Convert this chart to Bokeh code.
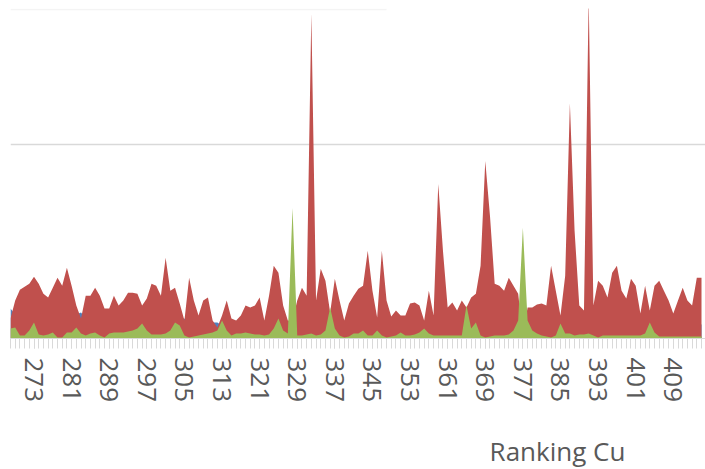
from bokeh.plotting import figure
from bokeh.layouts import column
from bokeh.models import Range1d, FixedTicker, BoxAnnotation, ColumnDataSource
from bokeh.core.properties import value
from bokeh.embed import file_html
from bokeh.resources import INLINE

# categories (Ranking Cu)
categories = [268, 269, 270, 271, 272, 273, 274, 275, 276, 277,
              278, 279, 280, 281, 282, 283, 284, 285, 286, 287,
              288, 289, 290, 291, 292, 293, 294, 295, 296, 297,
              298, 299, 300, 301, 302, 303, 304, 305, 306, 307,
              308, 309, 310, 311, 312, 313, 314, 315, 316, 317,
              318, 319, 320, 321, 322, 323, 324, 325, 326, 327,
              328, 329, 330, 331, 332, 333, 334, 335, 336, 337,
              338, 339, 340, 341, 342, 343, 344, 345, 346, 347,
              348, 349, 350, 351, 352, 353, 354, 355, 356, 357,
              358, 359, 360, 361, 362, 363, 364, 365, 366, 367,
              368, 369, 370, 371, 372, 373, 374, 375, 376, 377,
              378, 379, 380, 381, 382, 383, 384, 385, 386, 387,
              388, 389, 390, 391, 392, 393, 394, 395, 396, 397,
              398, 399, 400, 401, 402, 403, 404, 405, 406, 407,
              408, 409, 410, 411, 412, 413, 414, 415]

series_blue = [30, 24, 14, 13, 15, 14, 12, 14, 15, 13,
               14, 12, 15, 14, 24, 26, 20, 14, 13, 15,
               14, 12, 14, 15, 13, 14, 12, 15, 14, 13,
               14, 12, 15, 14, 13, 15, 20, 20, 14, 13,
               12, 14, 15, 16, 16, 13, 14, 12, 13, 15,
               14, 13, 15, 14, 12, 14, 15, 13, 14, 12,
               13, 14, 15, 13, 14, 12, 15, 14, 13, 12,
               14, 13, 15, 14, 12, 14, 15, 13, 14, 12,
               13, 14, 15, 13, 14, 12, 15, 14, 13, 15,
               14, 13, 15, 14, 12, 14, 15, 13, 14, 12,
               13, 14, 15, 13, 14, 12, 15, 14, 13, 12,
               14, 13, 15, 14, 12, 14, 15, 13, 14, 12,
               13, 14, 15, 13, 14, 12, 15, 14, 13, 15,
               14, 13, 15, 14, 12, 14, 15, 13, 14, 12,
               13, 14, 15, 13, 14, 12, 15, 14]

series_red = [20, 38, 49, 52, 55, 62, 55, 45, 41, 51,
              61, 53, 71, 53, 33, 20, 43, 43, 51, 43,
              30, 30, 43, 33, 38, 46, 46, 45, 33, 40,
              55, 53, 43, 81, 48, 51, 35, 18, 61, 38,
              23, 38, 41, 18, 11, 23, 38, 20, 18, 23,
              33, 31, 33, 41, 18, 43, 73, 66, 33, 18,
              18, 38, 51, 43, 326, 38, 70, 58, 26, 60,
              38, 18, 35, 43, 50, 53, 88, 48, 21, 88,
              38, 22, 28, 23, 23, 35, 36, 33, 18, 48,
              23, 155, 88, 31, 36, 28, 38, 31, 41, 45,
              73, 178, 123, 55, 53, 48, 61, 53, 45, 3,
              31, 31, 34, 35, 33, 73, 48, 23, 63, 236,
              108, 33, 28, 343, 33, 58, 53, 41, 66, 73,
              48, 40, 60, 53, 25, 53, 28, 53, 58, 48,
              38, 25, 38, 51, 38, 33, 61, 61]

series_green = [10, 11, 3, 3, 8, 16, 4, 3, 4, 6,
                1, 1, 6, 6, 11, 5, 3, 5, 6, 3,
                1, 5, 6, 6, 6, 7, 8, 10, 15, 8,
                4, 4, 4, 5, 8, 16, 13, 3, 1, 2,
                3, 4, 5, 6, 8, 18, 8, 3, 5, 5,
                6, 5, 4, 4, 3, 4, 10, 20, 8, 5,
                131, 3, 3, 4, 5, 3, 4, 8, 31, 10,
                3, 1, 2, 5, 5, 8, 3, 3, 8, 3,
                1, 2, 3, 6, 3, 3, 4, 6, 10, 5,
                3, 3, 3, 3, 3, 3, 3, 33, 10, 16,
                3, 1, 2, 3, 3, 3, 4, 8, 18, 111,
                18, 8, 5, 3, 2, 1, 3, 15, 5, 5,
                3, 4, 4, 5, 3, 1, 3, 3, 3, 3,
                3, 3, 3, 3, 3, 5, 16, 6, 2, 2,
                2, 2, 2, 2, 2, 2, 2, 2]

tick_labels = [273, 281, 289, 297, 305, 313, 321, 329, 337,
               345, 353, 361, 369, 377, 385, 393, 401, 409]
gridline_values = [195]
top_rule_value = 330
top_rule_end = 348
axis_title = "Ranking Cu"

BLUE = "#4F81BD"
RED = "#C0504D"
GREEN = "#9BBB59"
GRID = "#D9D9D9"
TEXT = "#595959"

src = ColumnDataSource(dict(x=categories, blue=series_blue, red=series_red, green=series_green))

p = figure(width=705, height=420, output_backend="svg", toolbar_location=None,
           x_range=Range1d(categories[0], 415.85), y_range=Range1d(0, 331),
           y_axis_location=None,
           min_border_left=10, min_border_right=0, min_border_top=8, min_border_bottom=82)
p.outline_line_color = None
p.background_fill_color = "white"
p.border_fill_color = "white"

p.varea(x="x", y1=0, y2="blue", source=src, fill_color=BLUE)
p.varea(x="x", y1=0, y2="red", source=src, fill_color=RED)
p.varea(x="x", y1=0, y2="green", source=src, fill_color=GREEN)

p.xgrid.visible = False
p.ygrid.ticker = FixedTicker(ticks=gridline_values)
p.ygrid.grid_line_color = GRID
p.ygrid.grid_line_width = 1.5

p.add_layout(BoxAnnotation(left=categories[0], right=top_rule_end,
                           bottom=top_rule_value, top=top_rule_value,
                           fill_alpha=0, line_color=GRID, line_width=1.5, level="underlay"))

ax = p.xaxis[0]
ax.ticker = FixedTicker(ticks=tick_labels, minor_ticks=categories)
ax.axis_line_color = GRID
ax.major_tick_line_color = GRID
ax.minor_tick_line_color = GRID
ax.major_tick_in = 0
ax.major_tick_out = 10
ax.minor_tick_in = 0
ax.minor_tick_out = 10
ax.major_label_orientation = "vertical"
ax.major_label_standoff = 9
ax.major_label_text_font = "Open Sans"
ax.major_label_text_font_size = "26px"
ax.major_label_text_color = TEXT

# strip under the chart holding the category-axis title
t = figure(width=705, height=49, output_backend="svg", toolbar_location=None,
           x_range=Range1d(0, 705), y_range=Range1d(0, 49),
           x_axis_location=None, y_axis_location=None,
           min_border_left=0, min_border_right=0, min_border_top=0, min_border_bottom=0)
t.outline_line_color = None
t.xgrid.visible = False
t.ygrid.visible = False
t.text(x=[486], y=[19], text=[axis_title], text_font=value("Open Sans"),
       text_font_size="26px", text_color=TEXT, text_align="left",
       text_baseline="alphabetic")

layout = column(p, t, spacing=0)
open("out.html", "w").write(file_html(layout, INLINE))
